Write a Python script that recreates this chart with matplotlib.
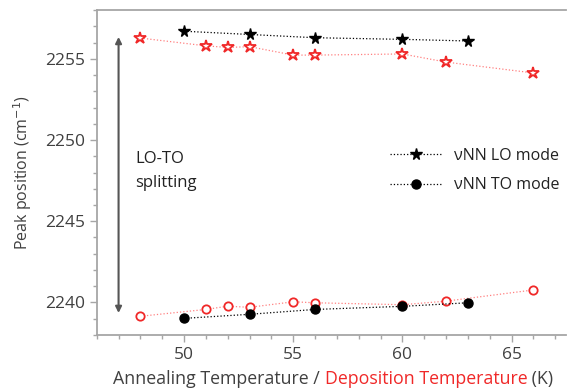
import matplotlib
matplotlib.use("Agg")
import matplotlib.pyplot as plt
from matplotlib.ticker import MultipleLocator

plt.rcParams["font.family"] = ["Open Sans", "DejaVu Sans"]

# annealing series (black)
anneal_T = [50, 53, 56, 60, 63]
anneal_lo = [2256.7, 2256.5, 2256.3, 2256.2, 2256.1]
anneal_to = [2239.02, 2239.27, 2239.57, 2239.76, 2239.98]

# deposition series (red)
depo_T = [48, 51, 52, 53, 55, 56, 60, 62, 66]
depo_lo = [2256.28, 2255.8, 2255.7, 2255.75, 2255.23, 2255.23, 2255.3, 2254.8, 2254.13]
depo_to = [2239.15, 2239.57, 2239.77, 2239.7, 2240.04, 2239.98, 2239.86, 2240.08, 2240.77]

RED = "#f02828"
GRAY = "#a6a6a6"
TXT = "#404040"

fig = plt.figure(figsize=(5.69, 3.89), dpi=100)
ax = fig.add_axes([0.170, 0.139, 0.825, 0.835])

ax.plot(depo_T, depo_lo, ":", color="#ff8080", linewidth=0.9, zorder=2)
ax.plot(depo_T, depo_lo, "*", markersize=9, markerfacecolor="white",
        markeredgecolor=RED, markeredgewidth=1.3, linestyle="none", zorder=3)
ax.plot(depo_T, depo_to, ":", color="#ff8080", linewidth=0.9, zorder=2)
ax.plot(depo_T, depo_to, "o", markersize=6, markerfacecolor="white",
        markeredgecolor=RED, markeredgewidth=1.3, linestyle="none", zorder=3)

ax.plot(anneal_T, anneal_lo, "*:", color="black", markersize=8.5, linewidth=0.9,
        label="\u03bdNN LO mode", zorder=4)
ax.plot(anneal_T, anneal_to, "o:", color="black", markersize=6.5, linewidth=0.9,
        label="\u03bdNN TO mode", zorder=4)

ax.annotate("", xy=(47.0, 2256.35), xytext=(47.0, 2239.35),
            arrowprops=dict(arrowstyle="<|-|>", color="#555555", lw=1.5,
                            mutation_scale=9, shrinkA=0, shrinkB=0))
ax.text(47.75, 2249.3, "LO-TO\nsplitting", fontsize=12, color="#222222",
        va="top", ha="left", linespacing=1.6)

ax.set_xlim(46, 67.5)
ax.set_ylim(2238, 2258)
ax.xaxis.set_major_locator(MultipleLocator(5))
ax.xaxis.set_minor_locator(MultipleLocator(1))
ax.yaxis.set_major_locator(MultipleLocator(5))
ax.yaxis.set_minor_locator(MultipleLocator(1))

ax.spines["right"].set_visible(False)
for s in ("left", "bottom", "top"):
    ax.spines[s].set_color(GRAY)
    ax.spines[s].set_linewidth(1.3)
ax.tick_params(which="major", length=5, width=1, color=GRAY, labelsize=12.5,
               labelcolor=TXT)
ax.tick_params(which="minor", length=3, width=1, color=GRAY)

ax.set_ylabel("Peak position (cm$^{-1}$)", fontsize=11.5, color=TXT, labelpad=8)

# multicolour x label
t1 = fig.text(0.199, 0.012, "Annealing Temperature / ", fontsize=12.8, color=TXT)
t2 = ax.annotate("Deposition Temperature", xycoords=t1, xy=(1, 0),
                 va="bottom", ha="left", fontsize=12.8, color=RED)
ax.annotate(" (K)", xycoords=t2, xy=(1, 0), va="bottom", ha="left",
            fontsize=12.8, color=TXT)

ax.legend(loc="upper left", bbox_to_anchor=(0.595, 0.62), frameon=False,
          fontsize=11.5, handlelength=3.2, labelspacing=0.85, labelcolor="#222222")

fig.savefig("out.png", dpi=100)
